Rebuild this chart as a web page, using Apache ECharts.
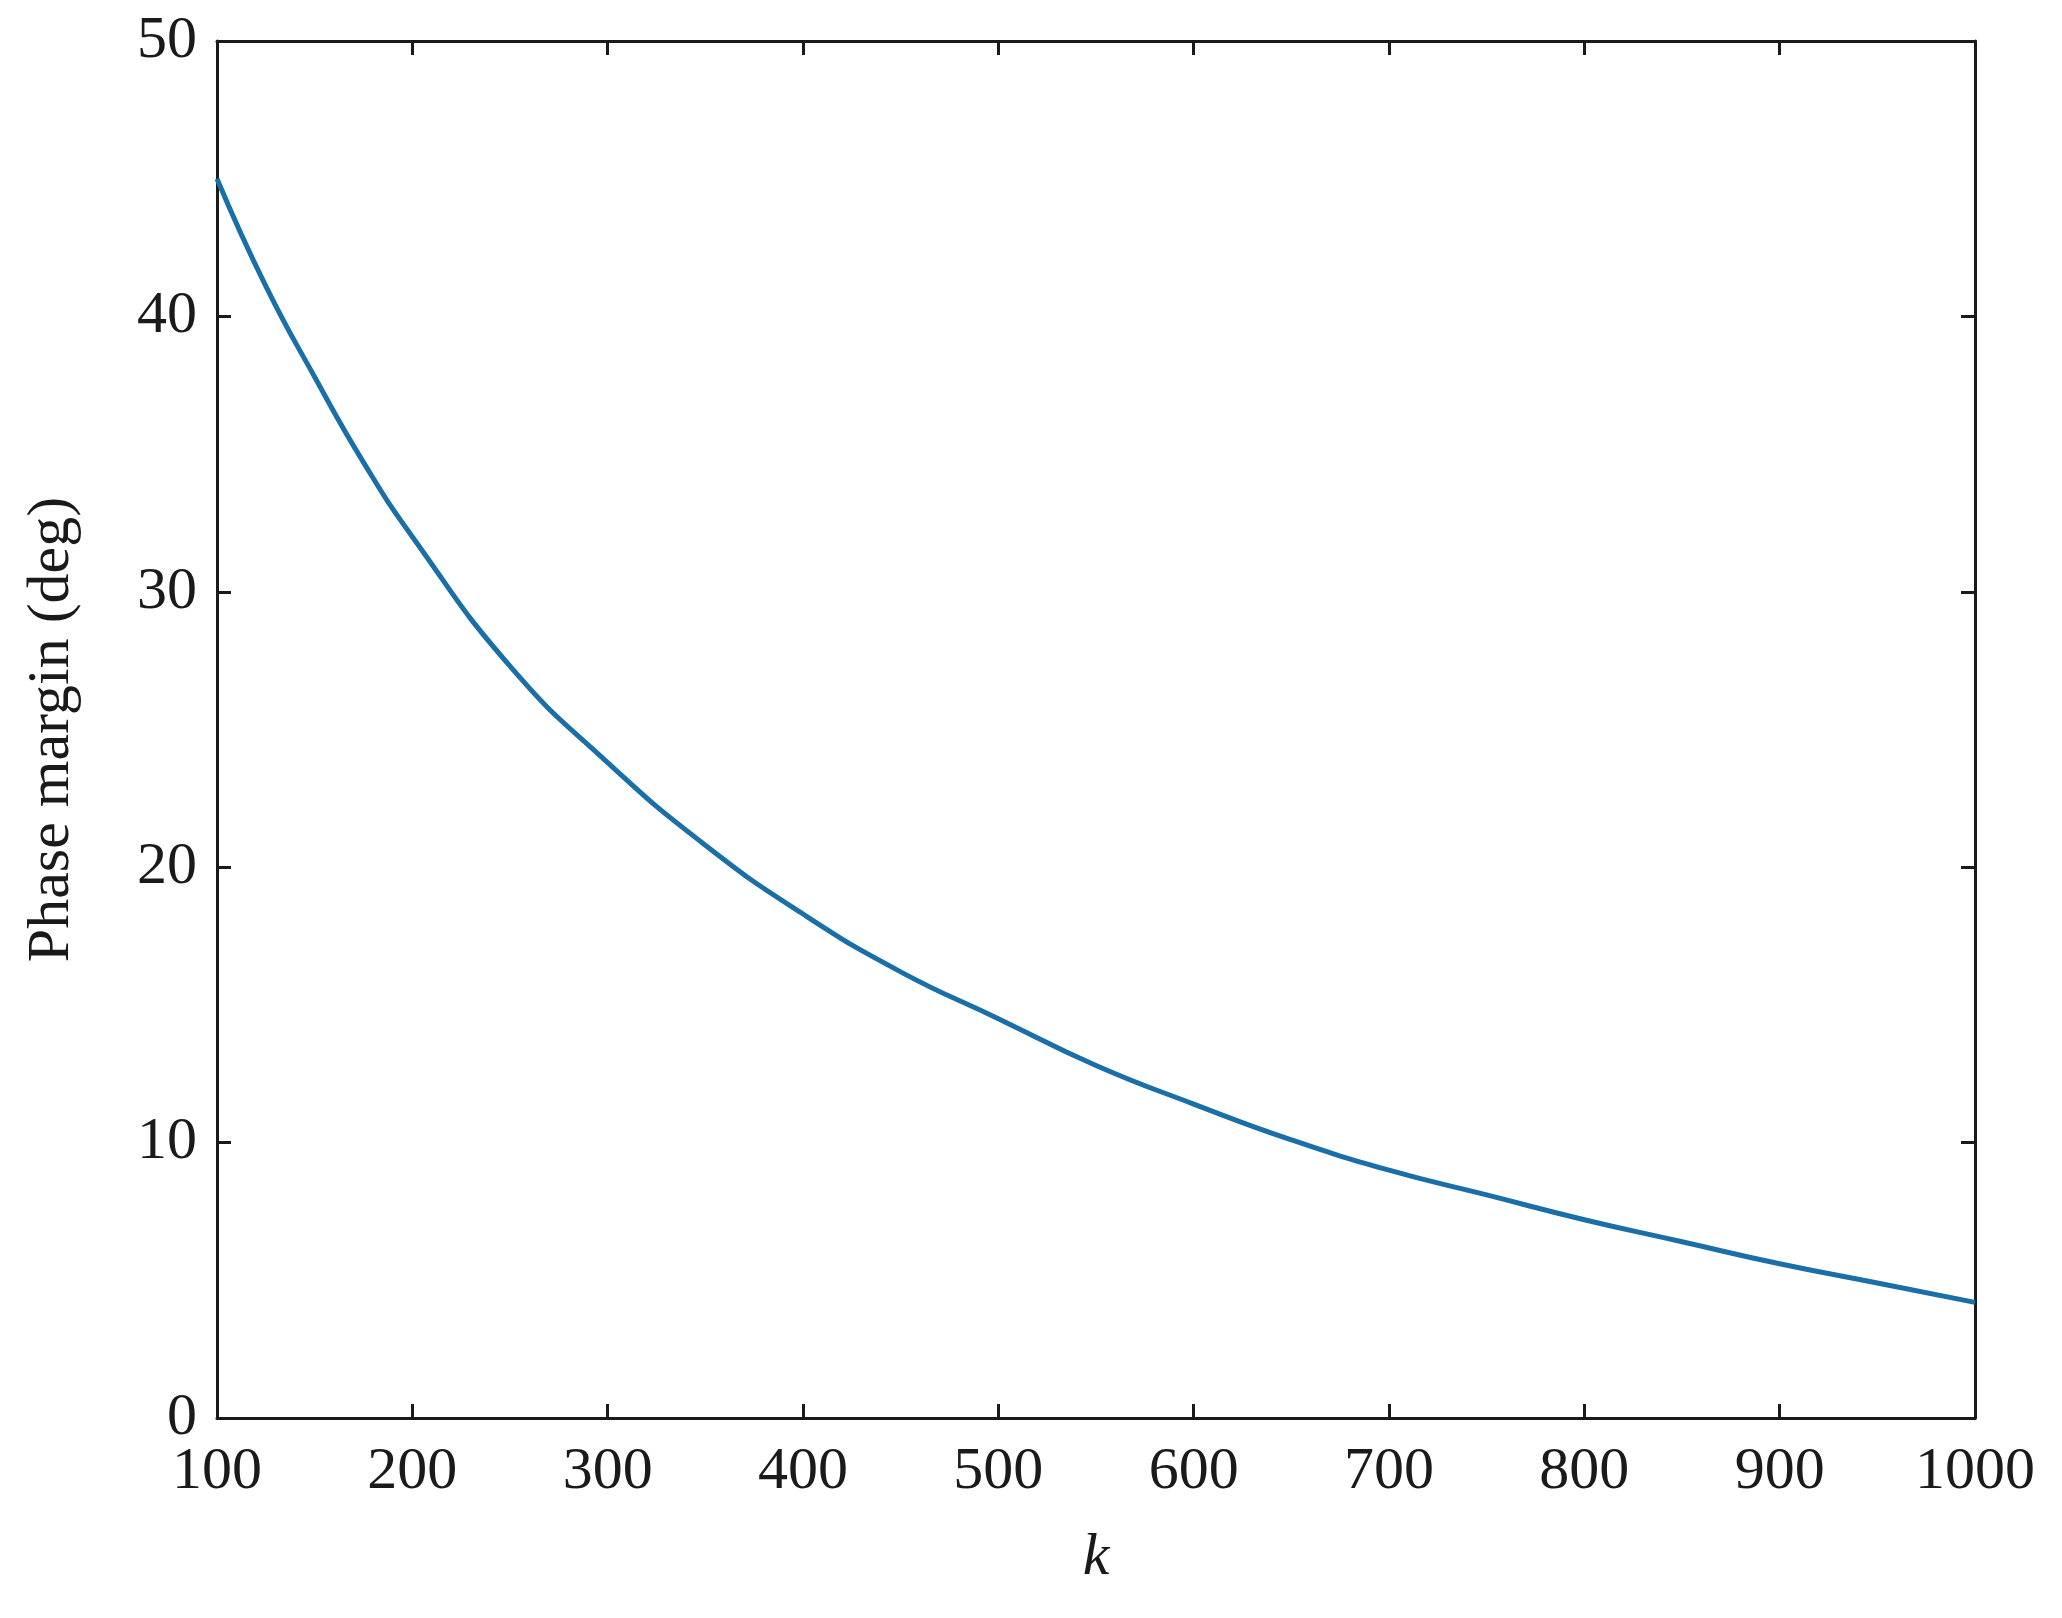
<!DOCTYPE html>
<html><head><meta charset="utf-8">
<script src="https://cdn.jsdelivr.net/npm/echarts@6/dist/echarts.min.js"></script>
<style>html,body{margin:0;padding:0;background:#fff}#c{width:2062px;height:1618px}</style>
</head><body><div id="c"></div>
<script>
const kValues = [100,125,150,175,200,250,300,350,400,450,500,550,600,650,700,750,800,850,900,950,1000];
const phaseMargin = [45,41.1,37.8,34.7,32,27.3,23.8,20.8,18.3,16.2,14.5,12.8,11.4,10.1,9.0,8.1,7.2,6.4,5.6,4.9,4.2];
const xTicks = [100,200,300,400,500,600,700,800,900,1000];
const yTicks = [0,10,20,30,40,50];
const font = '"Liberation Serif", "DejaVu Serif", serif';
const chart = echarts.init(document.getElementById('c'));
const axisCommon = {
  axisLine:{show:true,onZero:false,lineStyle:{color:'#1a1a1a',width:3}},
  axisTick:{show:true,inside:true,length:14,lineStyle:{color:'#1a1a1a',width:3}},
  splitLine:{show:false}
};
chart.setOption({
  animation:false,
  grid:{left:217,right:87,top:41,bottom:200},
  xAxis:[
    Object.assign({type:'value',min:100,max:1000,interval:100,position:'bottom',
      name:'k',nameLocation:'middle',nameGap:110,
      nameTextStyle:{fontFamily:font,fontSize:60,fontStyle:'italic',color:'#1a1a1a'},
      axisLabel:{fontFamily:font,fontSize:60,color:'#1a1a1a',margin:24,formatter:v=>String(v)}},axisCommon),
    Object.assign({type:'value',min:100,max:1000,interval:100,position:'top',axisLabel:{show:false}},axisCommon)
  ],
  yAxis:[
    Object.assign({type:'value',min:0,max:50,interval:10,position:'left',
      name:'Phase margin (deg)',nameLocation:'middle',nameGap:135,
      nameTextStyle:{fontFamily:font,fontSize:60,color:'#1a1a1a'},
      axisLabel:{fontFamily:font,fontSize:60,color:'#1a1a1a',margin:20}},axisCommon),
    Object.assign({type:'value',min:0,max:50,interval:10,position:'right',axisLabel:{show:false}},axisCommon)
  ],
  series:[{type:'line',smooth:0.5,showSymbol:false,
    data:kValues.map((k,i)=>[k,phaseMargin[i]]),
    lineStyle:{color:'#1a6fa8',width:5}}]
});
</script></body></html>
